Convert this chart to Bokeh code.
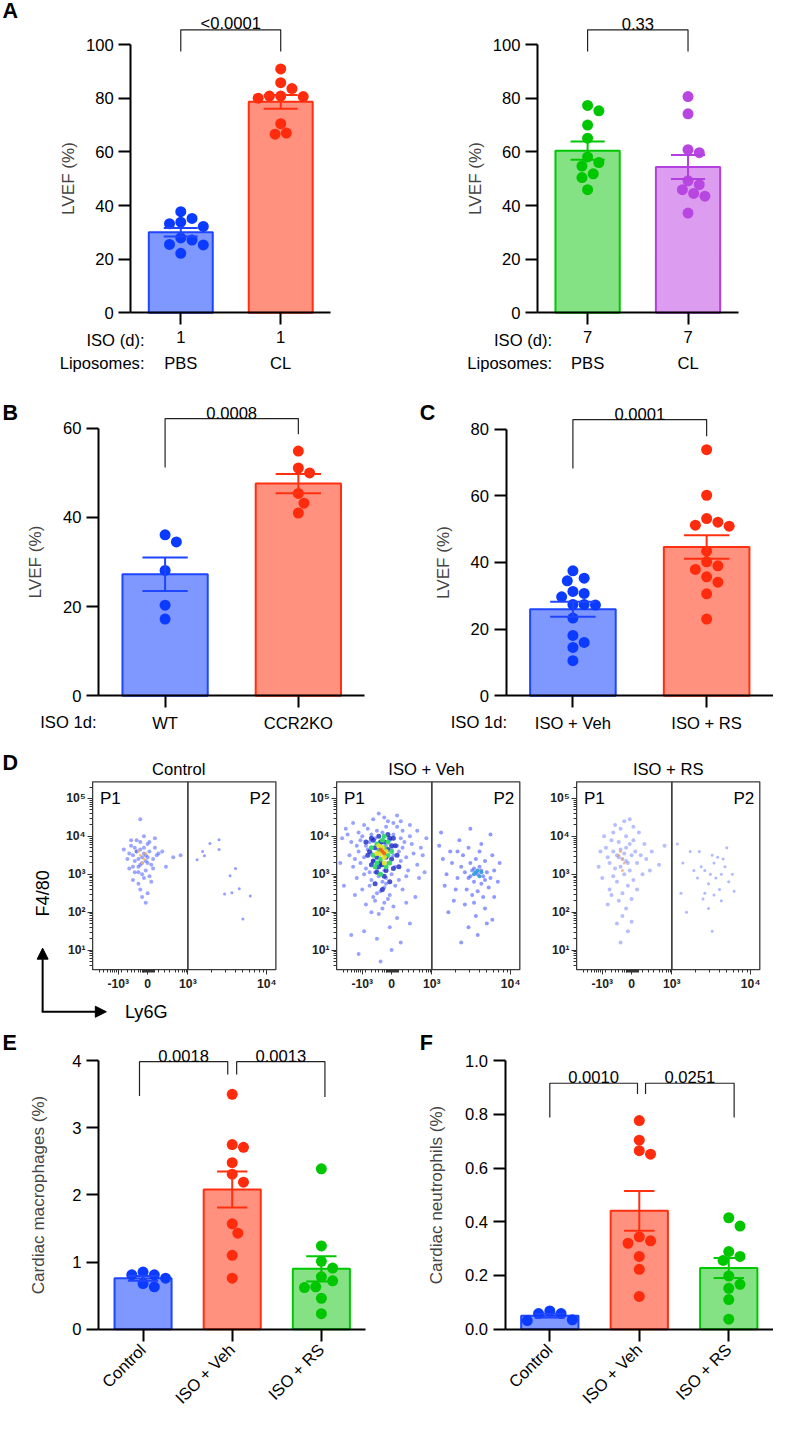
import math
import numpy as np
from bokeh.plotting import figure
from bokeh.models import Range1d, FixedTicker, Label, Arrow, NormalHead, PrintfTickFormatter, LinearAxis
from bokeh.layouts import row, column
from bokeh.embed import file_html
from bokeh.resources import INLINE

S = 0.979
FONT = "Liberation Sans"


def P(v):
    return int(round(v * S))


def F(v):
    return f"{v * S:.1f}px"


# ---------------- data ----------------
a1_iso = ["1", "1"]
a1_lipo = ["PBS", "CL"]
a1_pbs = [37.7, 32.2, 27.1, 22.2, 33.8, 27.9, 35.2, 25.3, 33.2, 25.5]
a1_cl = [90.9, 83.6, 80.0, 80.8, 80.8, 85.8, 80.6, 70.5, 66.6, 67.0]
a1_p = ["<0.0001"]

a2_iso = ["7", "7"]
a2_lipo = ["PBS", "CL"]
a2_pbs = [75.3, 77.3, 70.0, 65.1, 58.1, 54.7, 56.0, 51.8, 50.4, 45.9]
a2_cl = [80.6, 74.2, 60.8, 59.7, 45.9, 47.8, 49.2, 43.5, 44.5, 37.2]
a2_p = ["0.33"]

b_groups = ["WT", "CCR2KO"]
b_wt = [36.1, 34.5, 28.1, 20.3, 17.2]
b_ko = [54.9, 51.1, 50.0, 45.4, 43.2, 41.0]
b_p = ["0.0008"]

c_groups = ["ISO + Veh", "ISO + RS"]
c_veh = [37.5, 34.5, 35.3, 31.3, 30.7, 29.7, 27.4, 27.4, 27.2, 23.3, 18.1, 16.0, 14.5, 10.5]
c_rs = [73.9, 60.2, 53.2, 52.1, 50.9, 51.2, 43.4, 40.2, 37.9, 39.0, 34.1, 35.7, 30.6, 23.0]
c_p = ["0.0001"]

ef_groups = ["Control", "ISO + Veh", "ISO + RS"]
e_ctrl = [0.81, 0.81, 0.85, 0.76, 0.63, 0.68]
e_veh = [3.50, 2.71, 2.75, 2.48, 2.31, 2.19, 1.57, 1.43, 1.10, 0.76]
e_rs = [2.39, 1.24, 1.01, 0.91, 0.78, 0.72, 0.63, 0.62, 0.46, 0.23]
e_p = ["0.0018", "0.0013"]

f_ctrl = [0.035, 0.068, 0.058, 0.058, 0.032]
f_veh = [0.777, 0.704, 0.665, 0.652, 0.329, 0.344, 0.320, 0.271, 0.223, 0.122]
f_rs = [0.415, 0.384, 0.271, 0.289, 0.256, 0.198, 0.167, 0.152, 0.110, 0.037]
f_p = ["0.0010", "0.0251"]

# flow cytometry events: (Ly6G display position, log10 F4/80)
d_titles = ["Control", "ISO + Veh", "ISO + RS"]
d_gates = ["P1", "P2"]
d_xticks = ["-10³", "0", "10³", "10⁴"]
d_yticks = ["10¹", "10²", "10³", "10⁴", "10⁵"]

ctrl_p1 = [(27, 3.45), (24, 3.60), (30, 3.30), (22, 3.50), (28, 3.70), (33, 3.40), (25, 3.20), (20, 3.55),
           (31, 3.60), (26, 3.85), (29, 3.10), (23, 3.35), (35, 3.50), (27, 3.00), (21, 3.75), (32, 3.25),
           (24, 3.90), (30, 3.80), (28, 2.90), (26, 3.65), (19, 3.40), (34, 3.70), (25, 2.75), (29, 3.50),
           (23, 3.05), (31, 2.95), (27, 3.30), (36, 3.55), (22, 3.20), (28, 4.00), (26, 2.60), (30, 3.45),
           (24, 3.60), (33, 3.15), (27, 2.40), (25, 3.40), (29, 3.35), (21, 3.90), (32, 2.80), (28, 3.55),
           (26, 3.25), (38, 3.60), (23, 3.70), (30, 2.50), (26, 4.45), (17, 3.65), (40, 3.20), (34, 3.95),
           (22, 2.85), (29, 2.25), (44, 3.45), (48, 3.50), (25, 3.05), (31, 3.85), (20, 3.15)]
ctrl_core = [(26, 3.50), (28, 3.40), (25, 3.60), (27, 3.30), (29, 3.55)]
ctrl_p2 = [(60, 3.60), (64, 3.81), (69, 3.91), (69, 3.65), (61, 3.49), (75, 2.96), (78, 3.15), (72, 2.48),
           (76, 2.51), (80, 2.62), (86, 2.43), (82, 1.82), (57, 3.38)]

veh_p1 = [(20, 4.45), (26, 4.50), (31, 4.35), (15, 4.30), (35, 4.40), (23, 4.60), (9, 4.35), (40, 4.30),
          (12, 4.10), (17, 4.20), (22, 4.15), (27, 4.25), (31, 4.05), (36, 4.15), (40, 4.00), (19, 4.05),
          (25, 4.10), (44, 4.15), (5, 4.20), (33, 4.25), (8, 3.85), (13, 3.90), (16, 3.75), (21, 3.95),
          (24, 3.80), (29, 3.90), (33, 3.75), (37, 3.85), (41, 3.80), (46, 3.70), (18, 3.85), (35, 3.95),
          (11, 3.75), (27, 3.75), (7, 3.50), (12, 3.60), (15, 3.45), (19, 3.55), (23, 3.65), (31, 3.50),
          (34, 3.60), (38, 3.45), (42, 3.55), (47, 3.50), (10, 3.40), (36, 3.70), (30, 3.65), (17, 3.65),
          (9, 3.20), (13, 3.30), (16, 3.15), (20, 3.35), (24, 3.25), (28, 3.30), (32, 3.20), (35, 3.35),
          (39, 3.10), (44, 3.25), (18, 3.05), (26, 3.10), (22, 3.15), (11, 2.90), (15, 3.00), (19, 2.85),
          (23, 2.95), (27, 2.90), (30, 3.00), (34, 2.85), (38, 2.95), (21, 3.05), (25, 2.80), (14, 2.60),
          (18, 2.70), (22, 2.50), (26, 2.65), (29, 2.45), (32, 2.70), (24, 2.55), (20, 2.40), (36, 2.60),
          (27, 2.75), (16, 2.20), (21, 2.30), (25, 2.10), (28, 2.35), (23, 1.95), (19, 2.00), (31, 2.15),
          (33, 1.85), (26, 2.25), (15, 1.50), (22, 1.30), (29, 1.60), (12, 0.90), (35, 1.20), (24, 0.70),
          (8, 1.40), (40, 1.70), (30, 1.00), (3, 3.95), (2, 3.30), (4, 2.70), (6, 4.05), (45, 2.90),
          (49, 3.95), (43, 2.40), (48, 3.05), (38, 2.25), (14, 4.00), (28, 4.40), (33, 4.55), (10, 2.45)]
veh_dense = [(18, 3.60), (20, 3.90), (22, 3.45), (24, 3.30), (26, 3.85), (28, 3.65), (30, 3.40), (32, 3.75),
             (21, 3.70), (23, 4.00), (27, 3.10), (29, 3.95), (19, 3.25), (31, 3.15), (25, 3.25), (17, 3.50),
             (33, 3.50), (22, 3.05), (26, 2.95), (20, 3.35), (28, 4.05), (24, 3.85), (30, 3.75), (23, 3.20),
             (27, 3.45), (16, 3.85), (34, 3.20), (21, 2.75), (29, 2.80), (25, 2.60), (19, 3.95), (31, 3.95)]
veh_green = [(20, 3.50), (22, 3.80), (24, 3.40), (26, 3.70), (28, 3.50), (21, 3.20), (25, 3.90), (29, 3.30),
             (23, 3.60), (27, 3.20), (19, 3.70), (30, 3.60), (24, 3.00), (26, 4.00), (22, 3.30), (28, 3.85)]
veh_yellow = [(24, 3.55), (26, 3.45), (25, 3.70), (23, 3.75), (27, 3.60), (22, 3.55), (26, 3.30)]
veh_red = [(25, 3.60), (24, 3.65), (26, 3.55)]
veh_p2 = [(77, 3.00), (74, 3.10), (80, 2.95), (72, 2.90), (78, 3.20), (82, 3.05), (75, 2.80), (70, 3.05),
          (79, 2.75), (84, 2.90), (73, 3.30), (76, 3.40), (81, 3.35), (68, 3.20), (86, 3.10), (71, 2.60),
          (77, 2.55), (83, 2.65), (66, 2.90), (74, 2.45), (80, 2.40), (69, 3.50), (85, 3.50), (78, 3.60),
          (72, 3.70), (63, 3.30), (88, 2.80), (75, 2.25), (81, 2.10), (65, 2.60), (70, 2.20), (86, 2.40),
          (79, 3.80), (67, 3.90), (62, 3.60), (84, 4.05), (60, 3.00), (58, 3.40), (56, 3.75), (76, 1.90),
          (82, 1.70), (72, 1.60), (64, 2.30), (89, 3.30), (73, 4.20), (61, 2.00), (77, 1.40), (68, 1.20),
          (85, 1.80), (57, 4.10), (59, 2.70), (66, 3.60), (79, 3.10), (75, 3.15), (81, 2.85), (73, 2.95)]
veh_p2_core = [(76, 3.05), (78, 2.95), (77, 3.10), (75, 3.00), (79, 3.05)]

rs_p1 = [(25, 3.40), (22, 3.50), (28, 3.30), (20, 3.60), (27, 3.70), (24, 3.20), (30, 3.50), (18, 3.30),
         (26, 3.00), (32, 3.60), (23, 3.85), (29, 3.10), (21, 3.15), (33, 3.30), (19, 3.90), (27, 4.00),
         (24, 4.20), (31, 3.90), (16, 3.70), (35, 3.50), (22, 2.80), (28, 2.70), (25, 2.50), (20, 2.95),
         (31, 2.85), (17, 3.45), (34, 4.10), (13, 3.60), (38, 3.40), (26, 4.40), (21, 4.30), (29, 4.45),
         (23, 2.30), (27, 2.10), (19, 2.45), (30, 2.35), (25, 1.90), (22, 1.70), (28, 1.50), (15, 4.00),
         (37, 3.80), (12, 3.20), (40, 3.10), (33, 2.60), (18, 2.60), (26, 3.55), (24, 3.65), (23, 3.45),
         (27, 3.35), (29, 3.80), (14, 2.90), (36, 3.00), (31, 4.25), (20, 4.10), (41, 3.60), (24, 1.20),
         (30, 1.75), (17, 2.20), (45, 3.25), (48, 3.75)]
rs_p1_core = [(25, 3.40), (24, 3.60), (26, 3.30), (23, 3.50), (25, 3.10)]
rs_p2 = [(73, 3.00), (70, 3.10), (76, 2.90), (68, 3.20), (75, 3.30), (79, 3.00), (72, 2.75), (66, 2.90),
         (78, 2.60), (81, 3.20), (70, 2.50), (74, 3.50), (77, 3.45), (64, 3.10), (83, 2.80), (69, 2.35),
         (75, 2.45), (80, 3.40), (62, 3.60), (85, 3.00), (67, 3.60), (58, 3.30), (55, 3.80), (72, 2.10),
         (79, 2.30), (86, 2.55), (60, 2.00), (74, 1.50), (57, 2.50), (82, 3.70)]

# ---------------- colours ----------------
BLUE = dict(fill="#7F98FF", edge="#1F45FF", dot="#0A3BFF")
RED = dict(fill="#FF917E", edge="#FF3010", dot="#FF2B0D")
GREEN = dict(fill="#84E184", edge="#00C800", dot="#00C600")
PURPLE = dict(fill="#DC9DF0", edge="#B23FE0", dot="#B847E2")


def swarm(vals, ky, kx, diam):
    v = np.asarray(vals, float)
    order = np.argsort(-v, kind="stable")
    placed = []
    offs = np.zeros(len(v))
    h = diam * 0.5
    cands = [0.0]
    for m in range(1, 14):
        cands += [m * h, -m * h]
    for i in order:
        yp = v[i] * ky
        c = 0.0
        for c in cands:
            if all((c - a) ** 2 + (yp - b) ** 2 >= (0.9 * diam) ** 2 for a, b in placed):
                break
        placed.append((c, yp))
        offs[i] = c / kx
    return offs


def lab(p, x, y, text, size=17, align="center", baseline="middle", bold=False, angle=0, yoff=0):
    p.add_layout(Label(x=x, y=y, text=text, text_font=FONT, text_font_size=F(size),
                       text_font_style="bold" if bold else "normal", text_align=align,
                       text_baseline=baseline, angle=angle, y_offset=yoff, text_color="black"))


def base_fig(fx0, fx1, fy0, fy1, tx, ty):
    p = figure(width=P(fx1 - fx0), height=P(fy1 - fy0),
               x_range=Range1d(tx(fx0), tx(fx1)), y_range=Range1d(ty(fy1), ty(fy0)),
               x_axis_location=None, y_axis_location=None, min_border=0,
               output_backend="svg", toolbar_location=None)
    p.grid.visible = False
    p.outline_line_color = None
    p.background_fill_color = "white"
    p.border_fill_color = "white"
    return p


def bar_chart(fig_box, frame, y0px, ref, groups, cols, yticks, ylabel, ystand, xlabels,
              brackets, letter, row1=None, row2=None, rotate=False, yfmt=None):
    fx0, fx1, fy0, fy1 = fig_box
    rx0, rx1 = frame
    n = len(groups)
    ky = (y0px - ref[0]) / ref[1]
    kx = (rx1 - rx0) / n

    def tx(X):
        return 0.5 + (X - rx0) / kx

    def ty(Y):
        return (y0px - Y) / ky

    p = base_fig(fx0, fx1, fy0, fy1, tx, ty)
    xaxis = LinearAxis(fixed_location=0, bounds=(0.5, n + 0.5), ticker=FixedTicker(ticks=list(range(1, n + 1))))
    yaxis = LinearAxis(fixed_location=0.5, bounds=(0, yticks[-1]), ticker=FixedTicker(ticks=yticks))
    p.add_layout(xaxis, "below")
    p.add_layout(yaxis, "left")
    for ax in (xaxis, yaxis):
        ax.axis_line_width = 2
        ax.axis_line_color = "black"
        ax.major_tick_line_width = 2
        ax.major_tick_line_color = "black"
        ax.major_tick_out = P(12)
        ax.major_tick_in = 0
        ax.minor_tick_line_color = None
        ax.major_label_text_font = FONT
        ax.major_label_text_font_size = F(17)
        ax.major_label_text_color = "black"
    if yfmt:
        yaxis.formatter = PrintfTickFormatter(format=yfmt)
    yaxis.major_label_standoff = P(5)
    yaxis.axis_label = ylabel
    yaxis.axis_label_text_font = FONT
    yaxis.axis_label_text_font_style = "normal"
    yaxis.axis_label_text_font_size = F(17.5)
    yaxis.axis_label_standoff = P(ystand)
    xaxis.major_label_overrides = {i + 1: t for i, t in enumerate(xlabels)}
    xaxis.major_label_standoff = P(6)
    if rotate:
        xaxis.major_label_orientation = math.pi / 4

    xs = np.arange(1, n + 1)
    means = np.array([np.mean(g) for g in groups])
    sems = np.array([np.std(g, ddof=1) / np.sqrt(len(g)) for g in groups])
    p.vbar(x=xs, top=means, bottom=0, width=0.64, fill_color=[c["fill"] for c in cols],
           line_color=[c["edge"] for c in cols], line_width=2)
    for i, g in enumerate(groups):
        offs = swarm(g, ky, kx, 11.5)
        p.scatter(x=(i + 1) + offs, y=g, size=P(11.5), fill_color=cols[i]["dot"], line_color=None)
    edges = [c["edge"] for c in cols]
    cw = 0.17
    p.segment(x0=xs, y0=means - sems, x1=xs, y1=means + sems, line_color=edges, line_width=2)
    p.segment(x0=xs - cw, y0=means + sems, x1=xs + cw, y1=means + sems, line_color=edges, line_width=2)
    p.segment(x0=xs - cw, y0=means - sems, x1=xs + cw, y1=means - sems, line_color=edges, line_width=2)

    bxs, bys = [], []
    for (i, j, di, dj, top, lend, rend, ptxt) in brackets:
        xa, xb = i + di, j + dj
        bxs.append([xa, xa, xb, xb])
        bys.append([ty(lend), ty(top), ty(top), ty(rend)])
        lab(p, (xa + xb) / 2, ty(top), ptxt, size=17, baseline="alphabetic", yoff=P(6))
    p.multi_line(xs=bxs, ys=bys, line_color="#222222", line_width=1.2)

    if letter[0]:
        lab(p, tx(letter[1]), ty(letter[2]), letter[0], size=22, bold=True, align="left")
    if row1:
        lab(p, tx(row1[1]), ty(row1[2]), row1[0], align="right")
    if row2:
        lab(p, tx(row2[1]), ty(row2[2]), row2[0], align="right")
        for k, t in enumerate(row2[3]):
            lab(p, k + 1, ty(row2[2]), t)
    return p


def flow_panel(fxb, bxb, title, title_x, layers, extra=False):
    fx0, fx1 = fxb
    bx0, bx1 = bxb
    FY0, FY1, BY0, BY1 = 765, 1045, 798, 990

    def ty(Y):
        return 5 - (Y - 815) / 38.75

    def tx(X):
        return (X - bx0) / (bx1 - bx0) * 100

    p = base_fig(fx0, fx1, FY0, FY1, tx, ty)
    ybot, ytop = ty(BY1), ty(BY0)
    ymin = [d + math.log10(k) for d in range(0, 6) for k in range(2, 10) if ybot < d + math.log10(k) < ytop]
    xmin = [4, 6, 8, 10, 11, 12, 13, 16, 19, 21, 23, 25, 26, 27, 27.5, 28, 28.5, 29, 29.5, 30.5, 31, 31.5,
            32, 32.5, 33, 34, 36, 39, 42, 45, 47, 49, 50, 51] + [52 + 43 * math.log10(k) for k in range(2, 10)]
    yaxis = LinearAxis(fixed_location=0, bounds=(ybot, ytop),
                       ticker=FixedTicker(ticks=[1, 2, 3, 4, 5], minor_ticks=ymin))
    xaxis = LinearAxis(fixed_location=ybot, bounds=(0, 100),
                       ticker=FixedTicker(ticks=[14, 30, 52, 95], minor_ticks=xmin))
    yaxis.major_label_overrides = {i + 1: t for i, t in enumerate(d_yticks)}
    xaxis.major_label_overrides = {v: t for v, t in zip([14, 30, 52, 95], d_xticks)}
    p.add_layout(yaxis, "left")
    p.add_layout(xaxis, "below")
    for ax in (xaxis, yaxis):
        ax.axis_line_color = None
        ax.major_tick_line_color = "#333333"
        ax.minor_tick_line_color = "#333333"
        ax.major_tick_out = P(5)
        ax.major_tick_in = 0
        ax.minor_tick_out = P(3)
        ax.minor_tick_in = 0
        ax.major_label_text_font = FONT
        ax.major_label_text_font_style = "bold"
        ax.major_label_text_font_size = F(12.5)
        ax.major_label_text_color = "#222222"
        ax.major_label_standoff = P(2)
    for pts, color, alpha, size in layers:
        p.scatter(x=[a for a, b in pts], y=[b for a, b in pts], size=P(size), fill_color=color,
                  line_color=None, fill_alpha=alpha)
    p.segment(x0=[52], y0=[ybot], x1=[52], y1=[ytop], line_color="#333333", line_width=1.6)
    p.quad(left=[0], right=[100], bottom=[ybot], top=[ytop], fill_color=None,
           line_color="#3a3a3a", line_width=1.3)
    lab(p, title_x, ty(785), title, size=17)
    lab(p, 4, ty(815), d_gates[0], size=17.5, align="left")
    lab(p, 97, ty(815), d_gates[1], size=17.5, align="right")
    if extra:
        lab(p, tx(2), ty(779), "D", size=22, bold=True, align="left")
        lab(p, tx(43), ty(912), "F4/80", size=18.5, angle=math.pi / 2)
        lab(p, tx(127), ty(1033), "Ly6G", size=18.5, align="left")
        p.add_layout(Arrow(end=NormalHead(size=P(11), fill_color="black", line_color="black"),
                           x_start=tx(43), y_start=ty(1033), x_end=tx(43), y_end=ty(968),
                           line_width=2, line_color="black"))
        p.add_layout(Arrow(end=NormalHead(size=P(11), fill_color="black", line_color="black"),
                           x_start=tx(42), y_start=ty(1033), x_end=tx(108), y_end=ty(1033),
                           line_width=2, line_color="black"))
    return p


pa1 = bar_chart((0, 395, 0, 382), (133, 337), 319, (45, 100), [a1_pbs, a1_cl], [BLUE, RED],
                [0, 20, 40, 60, 80, 100], "LVEF (%)", 5, a1_iso,
                [(1, 2, 0, 0, 30, 52, 52, a1_p[0])], ("A", 2, 11),
                row1=("ISO (d):", 147, 347), row2=("Liposomes:", 147, 371, a1_lipo))
pa2 = bar_chart((395, 789, 0, 382), (548, 753), 319, (45, 100), [a2_pbs, a2_cl], [GREEN, PURPLE],
                [0, 20, 40, 60, 80, 100], "LVEF (%)", 5, a2_iso,
                [(1, 2, 0, 0, 30, 52, 52, a2_p[0])], ("", 548, 9),
                row1=("ISO (d):", 563, 347), row2=("Liposomes:", 563, 371, a2_lipo))
pb = bar_chart((0, 395, 382, 765), (100, 372), 710, (437, 60), [b_wt, b_ko], [BLUE, RED],
               [0, 20, 40, 60], "LVEF (%)", 15, b_groups,
               [(1, 2, 0, 0, 427, 477, 443, b_p[0])], ("B", 2, 421),
               row1=("ISO 1d:", 98, 737))
pc = bar_chart((395, 789, 382, 765), (516, 789), 710, (438, 80), [c_veh, c_rs], [BLUE, RED],
               [0, 20, 40, 60, 80], "LVEF (%)", 15, c_groups,
               [(1, 2, 0, 0, 428, 478, 445, c_p[0])], ("C", 428, 421),
               row1=("ISO 1d:", 517, 737))

dc = flow_panel((0, 300), (94, 281), d_titles[0], 47,
                [(ctrl_p1, "#4a5cff", 0.55, 3.6), (ctrl_core, "#f0b850", 0.8, 3.4),
                 (ctrl_p2, "#4a5cff", 0.6, 3.2)], extra=True)
dv = flow_panel((300, 545), (343, 530), d_titles[1], 49,
                [(veh_p1, "#4455ff", 0.55, 4.2), (veh_dense, "#1a28c8", 0.8, 5.2),
                 (veh_p2, "#4455ff", 0.6, 3.8), (veh_p2_core, "#2a9ad8", 0.9, 4.2),
                 (veh_green, "#2fd866", 0.95, 4.8), (veh_yellow, "#e3e62a", 0.95, 4.6),
                 (veh_red, "#f0601e", 0.95, 4.2)])
dr = flow_panel((545, 789), (588, 775), d_titles[2], 50,
                [(rs_p1, "#6f7fff", 0.5, 3.6), (rs_p1_core, "#f0a060", 0.7, 3.4),
                 (rs_p2, "#6f7fff", 0.55, 3.4)])

pe = bar_chart((0, 395, 1045, 1438), (100, 373), 1357, (1083, 4), [e_ctrl, e_veh, e_rs],
               [BLUE, RED, GREEN], [0, 1, 2, 3, 4], "Cardiac macrophages (%)", 21, ef_groups,
               [(1, 2, -0.04, -0.05, 1084, 1119, 1097, e_p[0]),
                (2, 3, 0.05, 0.04, 1084, 1097, 1120, e_p[1])], ("E", 2, 1065), rotate=True)
pf = bar_chart((395, 789, 1045, 1438), (515, 789), 1357, (1083, 1.0), [f_ctrl, f_veh, f_rs],
               [BLUE, RED, GREEN], [0, 0.2, 0.4, 0.6, 0.8, 1.0], "Cardiac neutrophils (%)", 16, ef_groups,
               [(1, 2, 0.0, -0.02, 1106, 1141, 1117, f_p[0]),
                (2, 3, 0.07, 0.06, 1106, 1117, 1141, f_p[1])], ("F", 428, 1065), rotate=True, yfmt="%.1f")

layout = column(row(pa1, pa2), row(pb, pc), row(dc, dv, dr), row(pe, pf))
open("out.html", "w").write(file_html(layout, INLINE, "Figure"))
